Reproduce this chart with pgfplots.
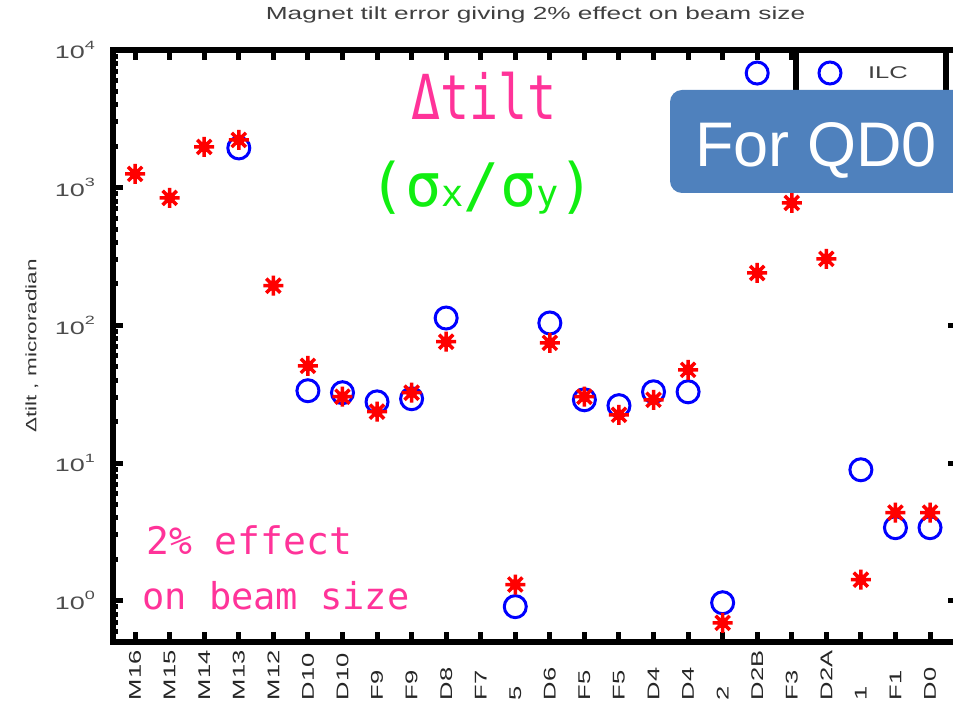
\documentclass[border=0pt]{standalone}
\usepackage{fontspec}
\usepackage{pgfplots}
\pgfplotsset{compat=1.18}
\setmainfont{Liberation Sans}
\newfontfamily\bmfont{Liberation Sans}[FakeStretch=1.5]
\newfontfamily\monofont{DejaVu Sans Mono}
\definecolor{pinkt}{RGB}{255,51,153}
\definecolor{greent}{RGB}{17,238,17}
\definecolor{boxblue}{RGB}{79,129,189}
\newcommand\dec[1]{10\raisebox{0.55em}{\fontsize{12bp}{12bp}\selectfont #1}}

% matlab-like 8-arm star
\pgfdeclareplotmark{mstar}{%
  \pgfpathmoveto{\pgfqpoint{-\pgfplotmarksize}{0pt}}\pgfpathlineto{\pgfqpoint{\pgfplotmarksize}{0pt}}%
  \pgfpathmoveto{\pgfqpoint{0pt}{-\pgfplotmarksize}}\pgfpathlineto{\pgfqpoint{0pt}{\pgfplotmarksize}}%
  \pgfpathmoveto{\pgfqpoint{-.707\pgfplotmarksize}{-.707\pgfplotmarksize}}\pgfpathlineto{\pgfqpoint{.707\pgfplotmarksize}{.707\pgfplotmarksize}}%
  \pgfpathmoveto{\pgfqpoint{-.707\pgfplotmarksize}{.707\pgfplotmarksize}}\pgfpathlineto{\pgfqpoint{.707\pgfplotmarksize}{-.707\pgfplotmarksize}}%
  \pgfpathcircle{\pgfpointorigin}{.4\pgfplotmarksize}%
  \pgfusepathqfillstroke}

\begin{document}
\begin{tikzpicture}
\clip (0,0) rectangle (953bp,705bp);
\begin{axis}[
  at={(113bp,63bp)}, anchor=south west, scale only axis,
  width=845bp, height=592bp,
  ymode=log, xmin=-0.64, xmax=23.81, ymin=0.501, ymax=10000,
  axis line style={line width=6bp},
  tick align=inside, major tick length=10bp, minor tick length=5bp,
  every tick/.style={black, line width=5bp},
  xtick={0,...,23},
  xticklabels={M16,M15,M14,M13,M12,D10,D10,F9,F9,D8,F7,5,D6,F5,F5,D4,D4,2,D2B,F3,D2A,1,F1,D0},
  xticklabel style={font=\bmfont\fontsize{17bp}{17bp}\selectfont, text=black!85,
    rotate=90, anchor=east, text width=50bp, align=left, inner xsep=8bp, inner ysep=0pt},
  ytick={1,10,100,1000,10000},
  yticklabels={\dec{0},\dec{1},\dec{2},\dec{3},\dec{4}},
  minor ytick={0.6,0.7,0.8,0.9,2,3,4,5,6,7,8,9,20,30,40,50,60,70,80,90,200,300,400,500,600,700,800,900,2000,3000,4000,5000,6000,7000,8000,9000},
  yticklabel style={font=\bmfont\fontsize{18bp}{18bp}\selectfont, text=black!70,
    anchor=east, inner sep=0pt, xshift=-18bp},
  title={Magnet tilt error giving 2\% effect on beam size},
  title style={font=\bmfont\fontsize{17.5bp}{17.5bp}\selectfont, text=black!75,
    at={(0.5,1)}, anchor=base, yshift=25bp},
  ylabel={Δtilt , microradian},
  ylabel style={font=\bmfont\fontsize{15bp}{15bp}\selectfont, text=black!80,
    at={(axis description cs:-0.096,0.5)}, anchor=center},
  legend style={at={(1,1)}, anchor=north east, xshift=-12bp, draw=black,
    line width=6bp, fill=white, inner sep=0pt, outer sep=0pt,
    font=\bmfont\fontsize{17bp}{17bp}\selectfont, text=black!75,
    cells={anchor=west}, nodes={inner sep=0pt}, column sep=0pt},
  legend image code/.code={%
    \path[draw=none, fill=none] (-34bp,-23bp) rectangle (12.5bp,23bp);
    \draw[#1] plot coordinates {(0bp,0bp)};},
]
% ILC (circles)
\addplot[only marks, mark=o, mark size=11bp, blue, line width=3bp] coordinates {
  (3,1944) (5,33.5) (6,32.4) (7,27.8) (8,29.3) (9,113) (11,0.905) (12,104)
  (13,28.8) (14,26.1) (15,32.9) (16,32.9) (17,0.966) (18,6800) (21,8.93)
  (22,3.39) (23,3.39)};
\addlegendentry{\makebox[103.5bp][l]{\kern25.5bp ILC}}
% second lattice (stars)
\addplot[only marks, mark=mstar, mark size=10bp, red, line width=3.5bp,
  mark options={fill=red}, forget plot] coordinates {
  (0,1259) (1,843) (2,1977) (3,2222) (4,194) (5,50.8) (6,30.3) (7,23.6)
  (8,32.4) (9,76) (11,1.31) (12,74.6) (13,30.3) (14,22.4) (15,28.8) (16,47.5)
  (17,0.69) (18,240) (19,775) (20,304) (21,1.42) (22,4.36) (23,4.36)};
\end{axis}

\node[anchor=base, text=pinkt, inner sep=0pt, font=\monofont\fontsize{62bp}{62bp}\selectfont]
  at (484bp,585bp) {\scalebox{0.78}[1]{Δtilt}};
\node[anchor=base, text=greent, inner sep=0pt, font=\monofont\fontsize{60bp}{60bp}\selectfont]
  at (482bp,498bp) {(σ{\fontsize{37bp}{37bp}\selectfont x}/σ{\fontsize{37bp}{37bp}\selectfont y})};
\node[anchor=base west, text=pinkt, inner sep=0pt, font=\monofont\fontsize{38bp}{38bp}\selectfont]
  at (146bp,150bp) {2\% effect};
\node[anchor=base west, text=pinkt, inner sep=0pt, font=\monofont\fontsize{37bp}{37bp}\selectfont]
  at (142bp,95bp) {on beam size};

\fill[boxblue, rounded corners=12bp] (670bp,512bp) rectangle (980bp,615bp);
\node[anchor=base west, text=white, inner sep=0pt, font=\fontsize{63bp}{63bp}\selectfont]
  at (695bp,538bp) {For QD0};
\end{tikzpicture}
\end{document}
